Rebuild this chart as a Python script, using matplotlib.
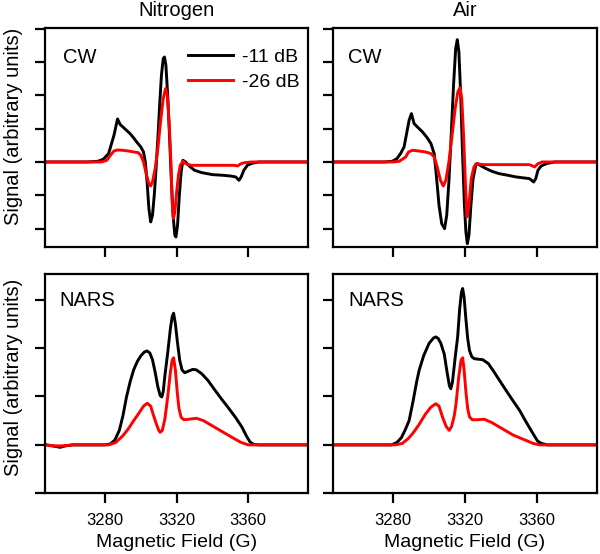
import matplotlib
matplotlib.use("Agg")
import matplotlib.pyplot as plt

plt.rcParams['font.family'] = ['Liberation Sans', 'DejaVu Sans']

# ---------------- data ----------------
col_titles = ["Nitrogen", "Air"]
row_labels = ["CW", "NARS"]
legend_labels = ["-11 dB", "-26 dB"]
xticks = [3280, 3320, 3360]

# CW, Nitrogen
cw_n2_hi_x = [3247, 3270, 3276, 3279, 3282, 3285, 3287, 3288.5, 3290, 3292, 3294, 3296, 3298, 3300,
              3301.5, 3302.5, 3303.5, 3304.5, 3305.5, 3306.5, 3307.5, 3308.5, 3309.5, 3310.5, 3311.5,
              3312.5, 3313.2, 3314, 3315, 3316, 3317, 3318, 3319, 3319.6, 3320.5, 3321.5, 3322.5,
              3323.5, 3325, 3327, 3330, 3334, 3340, 3346, 3350, 3353, 3354.8, 3356, 3357.5, 3359.5,
              3362, 3366, 3394]
cw_n2_hi_y = [0, 0, 0.02, 0.08, 0.25, 0.8, 1.29, 1.12, 1.05, 0.95, 0.85, 0.72, 0.58, 0.45,
              0.3, 0.0, -0.6, -1.4, -1.8, -1.6, -1.0, -0.2, 0.7, 1.7, 2.6,
              3.1, 3.15, 2.9, 2.0, 0.8, -0.5, -1.6, -2.2, -2.25, -1.9, -1.0, -0.3,
              0.05, 0.0, -0.12, -0.25, -0.32, -0.38, -0.4, -0.42, -0.45, -0.55, -0.45, -0.25, -0.1,
              -0.04, 0, 0]
cw_n2_lo_x = [3247, 3278, 3281, 3283, 3285, 3287, 3290, 3293, 3296, 3298.5, 3300, 3301.5, 3303,
              3304.5, 3305.5, 3306.5, 3308, 3309.5, 3311, 3312.5, 3313.8, 3314.8, 3315.8, 3316.8,
              3317.5, 3318.2, 3319, 3320, 3321, 3322, 3323.5, 3325, 3328, 3335, 3345, 3352, 3354,
              3356, 3358, 3362, 3394]
cw_n2_lo_y = [0, 0, 0.05, 0.2, 0.33, 0.36, 0.35, 0.33, 0.3, 0.28, 0.2, 0.0, -0.35,
              -0.65, -0.72, -0.6, -0.2, 0.4, 1.2, 1.9, 2.2, 2.0, 1.2, 0.0,
              -1.2, -1.7, -1.5, -0.9, -0.4, -0.1, 0.02, -0.05, -0.1, -0.1, -0.1, -0.1, -0.12,
              -0.05, -0.02, 0, 0]

# CW, Air
cw_air_hi_x = [3247, 3275, 3279.4, 3282, 3284, 3286, 3288.8, 3290.1, 3291.6, 3294, 3296.3, 3299,
               3301, 3302.8, 3304, 3305.5, 3307, 3308.6, 3309.8, 3311, 3312.3, 3313.6, 3314.8,
               3315.7, 3316.6, 3317.6, 3318.6, 3319.6, 3320.5, 3321.3, 3322.2, 3323.3, 3324.5,
               3326, 3327, 3329, 3331.8, 3335, 3339, 3344, 3348.6, 3353, 3356, 3358.3, 3359.5,
               3360.7, 3362.5, 3365.4, 3370, 3394]
cw_air_hi_y = [0, 0, 0.02, 0.1, 0.25, 0.45, 1.25, 1.45, 1.15, 1.02, 0.9, 0.72,
               0.55, 0.25, -0.4, -1.3, -1.85, -2.0, -1.6, -0.6, 0.8, 2.3, 3.4,
               3.67, 3.3, 2.0, 0.3, -1.2, -2.1, -2.45, -2.2, -1.3, -0.5,
               -0.1, -0.05, -0.12, -0.2, -0.28, -0.35, -0.4, -0.45, -0.48, -0.5, -0.6, -0.5,
               -0.25, -0.12, -0.05, 0, 0]
cw_air_lo_x = [3247, 3280, 3283.2, 3285, 3286.9, 3288.5, 3290.7, 3294, 3298, 3301, 3302.8, 3304.5,
               3306.3, 3307.9, 3309.3, 3311, 3312.8, 3314.5, 3316, 3317.2, 3318.2, 3319.2,
               3320.2, 3321.1, 3322.2, 3323.5, 3325, 3326.2, 3330, 3340, 3350, 3356, 3358.9,
               3360.5, 3363, 3394]
cw_air_lo_y = [0, 0, 0.02, 0.08, 0.15, 0.3, 0.35, 0.33, 0.3, 0.25, 0.15, -0.15,
               -0.55, -0.72, -0.55, 0.0, 0.8, 1.6, 2.1, 2.23, 1.9, 0.8,
               -0.6, -1.65, -1.3, -0.5, -0.15, -0.05, -0.08, -0.08, -0.08, -0.08, -0.15,
               -0.06, 0, 0]

# NARS, Nitrogen
nars_n2_hi_x = [3247, 3252, 3255, 3258, 3262, 3270, 3280, 3283, 3285.5, 3288, 3290, 3292, 3294,
                3296, 3298, 3300, 3302, 3303.5, 3305, 3306.5, 3308, 3309.5, 3310.8, 3311.7, 3312.5,
                3313.5, 3315, 3316.5, 3317.5, 3318.3, 3319.3, 3320.5, 3321.7, 3323, 3324.5, 3327,
                3329, 3331, 3334, 3337.5, 3341, 3345, 3349, 3353, 3356.4, 3359, 3361, 3363, 3366,
                3394]
nars_n2_hi_y = [0, -0.03, -0.05, -0.02, 0.0, 0, 0, 0.02, 0.1, 0.3, 0.6, 0.99, 1.3,
                1.55, 1.72, 1.84, 1.92, 1.94, 1.9, 1.76, 1.5, 1.2, 1.02, 0.99, 1.1,
                1.45, 1.9, 2.4, 2.65, 2.72, 2.5, 2.1, 1.75, 1.55, 1.49, 1.53,
                1.56, 1.55, 1.47, 1.33, 1.15, 0.95, 0.76, 0.56, 0.37, 0.18, 0.06, 0.01, 0,
                0]
nars_n2_lo_x = [3247, 3252, 3256, 3262, 3282, 3286, 3290, 3293, 3296, 3299, 3301.5, 3303.6,
                3305.5, 3307, 3308.5, 3310, 3310.8, 3312, 3313.5, 3315, 3316.5, 3317.5, 3318.3,
                3319.3, 3320.3, 3321.3, 3322.5, 3324, 3327, 3331, 3335, 3341, 3347, 3352.6, 3356,
                3360, 3394]
nars_n2_lo_y = [0, -0.02, -0.02, 0, 0, 0.05, 0.19, 0.33, 0.5, 0.66, 0.8, 0.86,
                0.8, 0.62, 0.45, 0.3, 0.26, 0.3, 0.55, 0.99, 1.5, 1.75, 1.8,
                1.55, 1.1, 0.75, 0.57, 0.52, 0.53, 0.55, 0.5, 0.37, 0.24, 0.12, 0.05,
                0, 0]

# NARS, Air
nars_air_hi_x = [3247, 3270, 3279, 3282, 3284.5, 3286.5, 3288.8, 3291, 3293, 3294.4, 3297, 3300,
                 3302.5, 3303.7, 3305, 3306.5, 3308.4, 3310, 3311.3, 3312.1, 3313, 3314.5, 3315.9,
                 3317, 3318, 3318.7, 3319.5, 3320.5, 3321.5, 3322.5, 3323.8, 3325.2, 3327.5,
                 3329.9, 3333, 3336, 3339.3, 3343, 3347, 3350.5, 3354, 3358, 3360.5, 3362.6, 3366,
                 3394]
nars_air_hi_y = [0, 0, 0, 0.05, 0.15, 0.3, 0.5, 0.9, 1.3, 1.54, 1.85, 2.1,
                 2.21, 2.23, 2.2, 2.1, 1.88, 1.5, 1.22, 1.16, 1.3, 1.8, 2.23,
                 2.8, 3.15, 3.23, 3.05, 2.6, 2.2, 1.95, 1.82, 1.78, 1.77,
                 1.76, 1.68, 1.52, 1.33, 1.12, 0.9, 0.71, 0.48, 0.23, 0.08, 0.03, 0,
                 0]
nars_air_lo_x = [3247, 3281, 3285, 3288, 3290.7, 3294, 3298, 3301, 3303.7, 3305.5, 3307.5, 3309.5,
                 3311.2, 3312.5, 3314, 3315, 3316.5, 3317.8, 3318.7, 3319.5, 3320.5, 3321.5,
                 3322.5, 3324, 3327, 3330.8, 3335, 3341, 3347, 3354.2, 3358, 3361.7, 3394]
nars_air_lo_y = [0, 0, 0.03, 0.12, 0.23, 0.4, 0.64, 0.78, 0.85, 0.8, 0.57, 0.38,
                 0.3, 0.38, 0.6, 0.85, 1.4, 1.75, 1.8, 1.55, 1.1, 0.75,
                 0.58, 0.52, 0.52, 0.53, 0.46, 0.33, 0.2, 0.09, 0.03, 0, 0]

panels = [
    [(cw_n2_hi_x, cw_n2_hi_y, cw_n2_lo_x, cw_n2_lo_y),
     (cw_air_hi_x, cw_air_hi_y, cw_air_lo_x, cw_air_lo_y)],
    [(nars_n2_hi_x, nars_n2_hi_y, nars_n2_lo_x, nars_n2_lo_y),
     (nars_air_hi_x, nars_air_hi_y, nars_air_lo_x, nars_air_lo_y)],
]

# ---------------- layout ----------------
W, H = 600, 554
fig = plt.figure(figsize=(W / 100, H / 100), dpi=100)

def frac_box(x0, x1, ytop, ybot):
    return [x0 / W, 1 - ybot / H, (x1 - x0) / W, (ybot - ytop) / H]

lefts = [(45, 308.3), (333.3, 596.7)]
rows = [(28.3, 247.3), (274, 493.3)]
ylims = [(-2.56, 4.01), (-1.0, 3.53)]
yticks = [[-2, -1, 0, 1, 2, 3, 4], [-1, 0, 1, 2, 3]]
label_pos = [[(0.067, 0.842), (0.056, 0.842)], [(0.054, 0.852), (0.058, 0.852)]]
ylabel_y = [0.554, 0.529]

for r in range(2):
    for c in range(2):
        ax = fig.add_axes(frac_box(lefts[c][0], lefts[c][1], rows[r][0], rows[r][1]))
        hx, hy, lx, ly = panels[r][c]
        ax.plot(hx, hy, color='black', lw=2.1, label=legend_labels[0], solid_joinstyle='round')
        ax.plot(lx, ly, color='#ff0000', lw=2.1, label=legend_labels[1], solid_joinstyle='round')
        ax.set_xlim(3246.5, 3393.5)
        ax.set_ylim(*ylims[r])
        ax.set_xticks(xticks)
        ax.set_yticks(yticks[r])
        ax.set_yticklabels([])
        for s in ax.spines.values():
            s.set_linewidth(1.6)
        ax.tick_params(direction='out', length=7.2, width=1.6, labelsize=12, pad=7)
        if r == 0:
            ax.set_xticklabels([])
            ax.set_title(col_titles[c], fontsize=14.5, pad=9)
        else:
            ax.set_xlabel("Magnetic Field (G)", fontsize=14, labelpad=4)
        if c == 0:
            ax.set_ylabel("Signal (arbitrary units)", fontsize=14.5)
            ax.yaxis.set_label_coords(-0.084, ylabel_y[r])
        ax.text(label_pos[r][c][0], label_pos[r][c][1], row_labels[r], transform=ax.transAxes,
                fontsize=14.5, ha='left', va='baseline')
        if r == 0 and c == 0:
            ax.legend(loc='upper left', bbox_to_anchor=(0.544, 0.908), frameon=False,
                      fontsize=14, handlelength=2.3, handletextpad=0.45, borderpad=0,
                      borderaxespad=0, labelspacing=0.38)

fig.savefig("out.png", dpi=100)
